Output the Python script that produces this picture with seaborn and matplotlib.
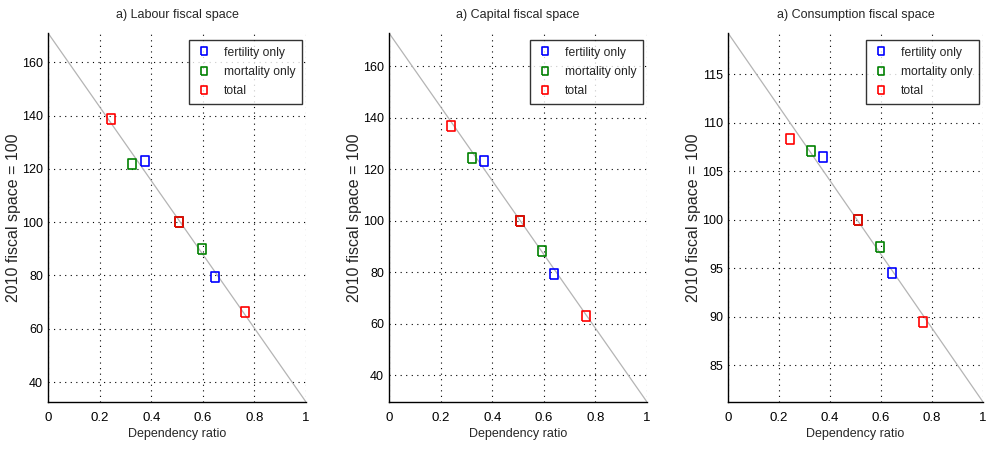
import matplotlib
matplotlib.use("Agg")
import matplotlib.pyplot as plt
import seaborn as sns
import pandas as pd

# ---- data ----
titles = ["a) Labour fiscal space", "a) Capital fiscal space", "a) Consumption fiscal space"]
series = ["fertility only", "mortality only", "total"]

# dependency ratio (x) and fiscal space index (y) for each series, each panel
fert_x = [[0.375, 0.509, 0.646], [0.369, 0.506, 0.640], [0.373, 0.510, 0.643]]
fert_y = [[123.0, 100.0, 79.5], [123.2, 100.0, 79.3], [106.5, 100.0, 94.5]]
mort_x = [[0.326, 0.509, 0.598], [0.322, 0.506, 0.594], [0.326, 0.510, 0.598]]
mort_y = [[122.0, 100.0, 90.1], [124.5, 100.0, 88.2], [107.1, 100.0, 97.2]]
tot_x = [[0.244, 0.509, 0.765], [0.240, 0.506, 0.762], [0.244, 0.510, 0.765]]
tot_y = [[138.6, 100.0, 66.1], [136.8, 100.0, 63.1], [108.35, 100.0, 89.4]]

# reference line endpoints (x = 0 and x = 1)
line_x = [0.0, 1.0]
line_y = [[171.0, 32.5], [172.9, 29.6], [119.25, 81.2]]

yticks = [[40, 60, 80, 100, 120, 140, 160],
          [40, 60, 80, 100, 120, 140, 160],
          [85, 90, 95, 100, 105, 110, 115]]
xticks = [0, 0.2, 0.4, 0.6, 0.8, 1]
xticklabels = ["0", "0.2", "0.4", "0.6", "0.8", "1"]

colors = {"fertility only": "#0000ff", "mortality only": "#008000", "total": "#ff0000"}

sns.set_theme(style="white")
plt.rcParams["font.family"] = ["Liberation Sans", "DejaVu Sans"]

# tall rectangle marker
rect = [(-0.39, -0.5), (0.39, -0.5), (0.39, 0.5), (-0.39, 0.5), (-0.39, -0.5)]

fig = plt.figure(figsize=(9.87, 4.49), dpi=100)
lefts = [48 / 987, 389 / 987, 728 / 987]
widths = [258 / 987, 258 / 987, 255 / 987]
bottom = 1 - 402 / 449
height = 369 / 449

for i in range(3):
    ax = fig.add_axes([lefts[i], bottom, widths[i], height])
    rows = []
    for name, xs, ys in [("fertility only", fert_x[i], fert_y[i]),
                         ("mortality only", mort_x[i], mort_y[i]),
                         ("total", tot_x[i], tot_y[i])]:
        for x, y in zip(xs, ys):
            rows.append({"x": x, "y": y, "series": name})
    df = pd.DataFrame(rows)
    ldf = pd.DataFrame({"x": line_x, "y": line_y[i]})
    sns.lineplot(data=ldf, x="x", y="y", ax=ax, color="#b4b4b4", linewidth=0.9,
                 legend=False, zorder=2)
    for name in series:
        sub = df[df["series"] == name]
        ax.plot(sub["x"], sub["y"], linestyle="none", marker=rect, markersize=7.5,
                markerfacecolor="none", markeredgecolor=colors[name], markeredgewidth=1.2,
                label=name, zorder=3)
    ax.set_xlim(0, 1)
    ax.set_ylim(min(line_y[i]), max(line_y[i]))
    ax.set_xticks(xticks)
    ax.set_xticklabels(xticklabels)
    ax.set_yticks(yticks[i])
    ax.grid(True, color="black", linestyle=(0, (1, 4)), linewidth=0.8)
    ax.tick_params(axis="x", direction="in", length=3, labelsize=9.5, colors="black", pad=7)
    ax.tick_params(axis="y", direction="in", length=3, labelsize=9, colors="black", pad=3.5)
    for s in ["top", "right"]:
        ax.spines[s].set_visible(False)
    for s in ["left", "bottom"]:
        ax.spines[s].set_color("black")
        ax.spines[s].set_linewidth(1.0)
    ax.set_title(titles[i], fontsize=9, pad=11)
    ax.set_xlabel("Dependency ratio", fontsize=9, labelpad=3)
    ax.set_ylabel("2010 fiscal space = 100", fontsize=11.5)
    ax.yaxis.set_label_coords(-0.105, 0.5)
    leg = ax.legend(loc="upper right", bbox_to_anchor=(0.984, 0.981), fontsize=8.7,
                    frameon=True, fancybox=False, markerscale=0.75, handlelength=1.3,
                    handletextpad=1.0, borderpad=0.55, labelspacing=0.6, borderaxespad=0)
    leg.get_frame().set_edgecolor("black")
    leg.get_frame().set_linewidth(1.0)

fig.savefig("out.png", dpi=100)
